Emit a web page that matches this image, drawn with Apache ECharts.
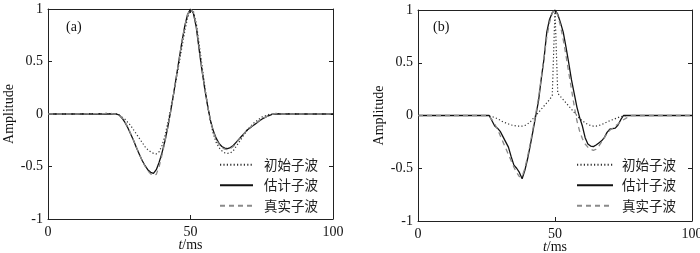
<!DOCTYPE html>
<html><head><meta charset="utf-8">
<script src="https://cdn.jsdelivr.net/npm/echarts@6/dist/echarts.min.js"></script>
<style>html,body{margin:0;padding:0;background:#fff}#c{width:700px;height:253px}</style>
</head><body><div id="c"></div>
<script>
// time axis (ms)
const T = [0,10,20,21,22,23,24,25,26,27,28,29,30,31,32,33,34,35,36,37,38,39,40,41,42,43,44,45,46,47,48,49,50,51,52,53,54,55,56,57,58,59,60,61,62,63,64,65,66,67,68,69,70,71,72,73,74,75,76,77,78,79,80,81,82,90,100];
const xTicks = [0, 50, 100];
const yTicks = [-1, -0.5, 0, 0.5, 1];
const seriesNames = ['初始子波', '估计子波', '真实子波'];
const panelLabels = ['(a)', '(b)'];

// panel (a)
const aInit = [0,0,0.005,0.005,0.005,0,0,-0.01,-0.03,-0.05,-0.08,-0.11,-0.15,-0.19,-0.23,-0.27,-0.31,-0.34,-0.36,-0.375,-0.38,-0.36,-0.30,-0.21,-0.09,0.04,0.18,0.33,0.48,0.64,0.79,0.92,0.99,0.98,0.87,0.68,0.47,0.27,0.08,-0.07,-0.19,-0.27,-0.32,-0.35,-0.37,-0.375,-0.37,-0.35,-0.31,-0.27,-0.23,-0.19,-0.15,-0.12,-0.09,-0.07,-0.05,-0.03,-0.02,-0.01,0,0,0.005,0.005,0.005,0,0];
const aEst = [0,0,0,0,0,0,0,-0.01,-0.04,-0.08,-0.13,-0.19,-0.25,-0.32,-0.38,-0.44,-0.49,-0.53,-0.555,-0.565,-0.53,-0.46,-0.37,-0.26,-0.13,0.02,0.18,0.35,0.52,0.69,0.84,0.95,1.0,0.96,0.83,0.62,0.42,0.24,0.08,-0.06,-0.16,-0.23,-0.28,-0.31,-0.325,-0.33,-0.32,-0.30,-0.27,-0.24,-0.21,-0.18,-0.15,-0.13,-0.11,-0.09,-0.07,-0.05,-0.035,-0.02,-0.01,0,0,0,0,0,0];
const aTrue = [0,0,0.005,0.01,0.005,0,0,-0.01,-0.035,-0.075,-0.125,-0.185,-0.25,-0.315,-0.38,-0.44,-0.495,-0.54,-0.57,-0.585,-0.575,-0.50,-0.39,-0.27,-0.13,0.02,0.18,0.35,0.52,0.69,0.84,0.95,1.0,0.97,0.85,0.64,0.43,0.25,0.08,-0.06,-0.17,-0.24,-0.29,-0.32,-0.335,-0.34,-0.33,-0.31,-0.28,-0.245,-0.21,-0.18,-0.15,-0.125,-0.105,-0.085,-0.065,-0.05,-0.035,-0.02,-0.01,0,0.005,0.005,0,0,0];

// panel (b)
const bInit = [0,0,0,0,0,0,0,0,-0.005,-0.01,-0.02,-0.03,-0.045,-0.06,-0.07,-0.08,-0.09,-0.095,-0.1,-0.1,-0.1,-0.095,-0.08,-0.06,-0.03,0,0.03,0.06,0.09,0.12,0.15,0.19,1.0,0.21,0.18,0.15,0.12,0.09,0.06,0.03,0,-0.03,-0.05,-0.07,-0.085,-0.095,-0.1,-0.1,-0.095,-0.085,-0.075,-0.06,-0.05,-0.04,-0.03,-0.02,-0.01,-0.005,0,0,0,0,0,0,0,0,0];
const bEst = [0,0,0,0,0,0,0,0,0,-0.05,-0.10,-0.12,-0.15,-0.20,-0.25,-0.30,-0.39,-0.47,-0.50,-0.54,-0.60,-0.52,-0.41,-0.28,-0.14,0,0.14,0.35,0.54,0.79,0.91,0.975,1.0,0.96,0.88,0.79,0.65,0.50,0.34,0.21,0.08,-0.02,-0.10,-0.21,-0.27,-0.29,-0.295,-0.28,-0.26,-0.24,-0.21,-0.16,-0.13,-0.125,-0.12,-0.09,-0.04,0,0,0,0,0,0,0,0,0,0];
const bTrue = [0,0,0,0,0,0,0,0,-0.01,-0.04,-0.08,-0.13,-0.19,-0.25,-0.31,-0.37,-0.43,-0.49,-0.54,-0.58,-0.58,-0.50,-0.39,-0.26,-0.12,0.02,0.17,0.36,0.55,0.74,0.88,0.97,1.0,0.95,0.85,0.72,0.57,0.41,0.25,0.09,-0.05,-0.15,-0.22,-0.27,-0.30,-0.32,-0.33,-0.32,-0.29,-0.25,-0.21,-0.17,-0.14,-0.12,-0.10,-0.08,-0.06,-0.04,-0.025,-0.01,0,0,0,0,0,0,0];

const panels = [[aInit, aEst, aTrue], [bInit, bEst, bTrue]];

const serif = 'Liberation Serif';
const frame = '#222';
const fs = 14;
const grids = [
  {left: 48, top: 9, width: 285, height: 210, containLabel: false, outerBoundsMode: 'none'},
  {left: 418, top: 10, width: 274, height: 211, containLabel: false, outerBoundsMode: 'none'}
];
const tickStyle = {show: true, inside: true, length: 4, lineStyle: {color: frame, width: 1}};
const lineStyle = {show: true, onZero: false, lineStyle: {color: frame, width: 1}};

const xAxis = [], yAxis = [], series = [], legend = [], title = [];
grids.forEach((g, i) => {
  xAxis.push({
    gridIndex: i, type: 'value', position: 'bottom', min: xTicks[0], max: xTicks[xTicks.length-1], interval: 50,
    axisLine: lineStyle, axisTick: tickStyle, splitLine: {show: false},
    axisLabel: {fontFamily: serif, fontSize: fs, color: '#111', margin: 6},
    name: '{i|t}/ms', nameLocation: 'middle', nameGap: 19, nameMoveOverlap: false,
    nameTextStyle: {fontFamily: serif, fontSize: fs, color: '#111', verticalAlign: 'top', rich: {i: {fontFamily: serif, fontStyle: 'italic', fontSize: fs, color: '#111'}}}
  });
  xAxis.push({
    gridIndex: i, type: 'value', position: 'top', min: 0, max: 100, interval: 50,
    axisLine: lineStyle, axisTick: tickStyle, splitLine: {show: false}, axisLabel: {show: false}
  });
  yAxis.push({
    gridIndex: i, type: 'value', position: 'left', min: yTicks[0], max: yTicks[yTicks.length-1], interval: 0.5,
    axisLine: lineStyle, axisTick: tickStyle, splitLine: {show: false},
    axisLabel: {fontFamily: serif, fontSize: fs, color: '#111', margin: 5},
    name: 'Amplitude', nameLocation: 'middle', nameGap: 32, nameRotate: 90, nameMoveOverlap: false,
    nameTextStyle: {fontFamily: serif, fontSize: fs, color: '#111'}
  });
  yAxis.push({
    gridIndex: i, type: 'value', position: 'right', min: -1, max: 1, interval: 0.5,
    axisLine: lineStyle, axisTick: tickStyle, splitLine: {show: false}, axisLabel: {show: false}
  });
  const styles = [
    {color: '#333', width: 1.2, type: [1.2, 2.2]},
    {color: '#111', width: 1.3, type: 'solid'},
    {color: '#8a8a8a', width: 1.3, type: [5, 4]}
  ];
  panels[i].forEach((vals, k) => {
    series.push({
      name: seriesNames[k], type: 'line', xAxisIndex: i*2, yAxisIndex: i*2,
      data: T.map((t, j) => [t, vals[j]]), showSymbol: false, symbol: 'none', smooth: false,
      lineStyle: styles[k], itemStyle: {color: styles[k].color}, animation: false, z: 2 + k
    });
  });
  legend.push({
    show: true, orient: 'vertical', left: i === 0 ? 219 : 576, top: 158, padding: 0,
    itemWidth: i === 0 ? 33 : 36, itemHeight: 14, itemGap: 7,
    data: seriesNames, selectedMode: false, itemStyle: {opacity: 0},
    textStyle: {fontFamily: 'Noto Sans CJK SC', fontSize: 13.5, color: '#222', padding: [0,0,0,i === 0 ? 6 : 4]}
  });
  title.push({
    text: panelLabels[i], left: i === 0 ? 61 : 428, top: 15,
    textStyle: {fontFamily: serif, fontSize: fs, fontWeight: 'normal', color: '#111'}
  });
});

const chart = echarts.init(document.getElementById('c'), null, {renderer: 'canvas'});
chart.setOption({animation: false, backgroundColor: '#fff', title, grid: grids, xAxis, yAxis, series, legend});
</script></body></html>
